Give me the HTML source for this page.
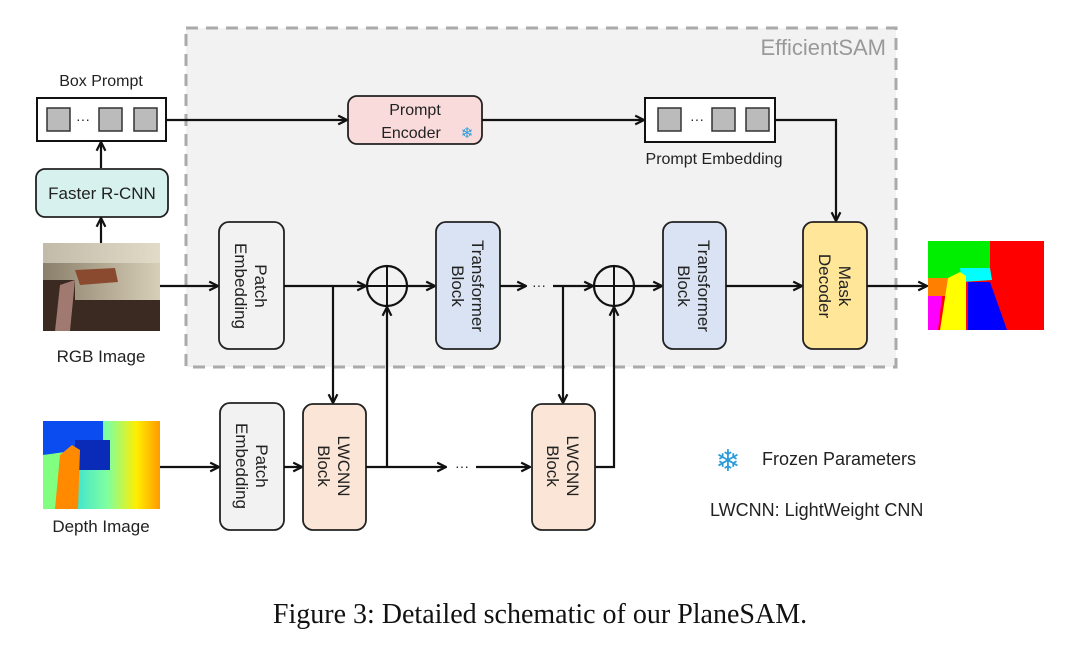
<!DOCTYPE html>
<html><head><meta charset="utf-8"><style>
html,body{margin:0;padding:0;background:#fff;}
svg{display:block;}
text{font-family:"Liberation Sans",sans-serif;fill:#222;}
</style></head><body>
<svg width="1080" height="649" viewBox="0 0 1080 649" xmlns="http://www.w3.org/2000/svg">
<defs>
<marker id="a" viewBox="0 0 10 10" refX="9" refY="5" markerWidth="11" markerHeight="11" markerUnits="userSpaceOnUse" orient="auto">
<path d="M1,1 L9,5 L1,9" fill="none" stroke="#111" stroke-width="2"/>
</marker>
<linearGradient id="dg" x1="0" x2="1" y1="0" y2="0">
<stop offset="0" stop-color="#00c8ff"/><stop offset="0.55" stop-color="#7fffa0"/><stop offset="0.8" stop-color="#ffee00"/><stop offset="1" stop-color="#ff9a00"/>
</linearGradient>
<linearGradient id="rg" x1="0" x2="1" y1="0" y2="0">
<stop offset="0" stop-color="#8a7f6a"/><stop offset="1" stop-color="#d8cfb8"/>
</linearGradient>
</defs>

<rect x="186" y="28" width="710" height="339" fill="#f2f2f2" stroke="#aaa" stroke-width="3" stroke-dasharray="12,8"/>
<text x="886" y="55" font-size="22" text-anchor="end" style="fill:#999">EfficientSAM</text>

<text x="101" y="86" font-size="16" text-anchor="middle">Box Prompt</text>
<rect x="37" y="98" width="129" height="43" fill="#fff" stroke="#111" stroke-width="2"/>
<rect x="47" y="108" width="23" height="23" fill="#bbb" stroke="#333" stroke-width="1.5"/>
<text x="83" y="124" font-size="14" text-anchor="middle">···</text>
<rect x="99" y="108" width="23" height="23" fill="#bbb" stroke="#333" stroke-width="1.5"/>
<rect x="134" y="108" width="23" height="23" fill="#bbb" stroke="#333" stroke-width="1.5"/>

<rect x="36" y="169" width="132" height="48" rx="9" fill="#d7f1ee" stroke="#222" stroke-width="1.8"/>
<text x="102" y="199" font-size="17" text-anchor="middle">Faster R-CNN</text>
<line x1="101" y1="243" x2="101" y2="218" stroke="#111" stroke-width="2.2" marker-end="url(#a)"/>
<line x1="101" y1="168" x2="101" y2="142" stroke="#111" stroke-width="2.2" marker-end="url(#a)"/>

<rect x="43" y="243" width="117" height="88" fill="url(#rg)"/>
<polygon points="43,280 75,280 75,300 160,300 160,331 43,331" fill="#3a2a22"/>
<polygon points="75,270 115,268 118,282 80,285" fill="#8a4a30"/>
<polygon points="60,285 75,280 70,331 55,331" fill="#a07a70"/>
<rect x="43" y="243" width="117" height="20" fill="#e8e2d2" opacity="0.6"/>
<text x="101" y="362" font-size="17" text-anchor="middle">RGB Image</text>

<line x1="167" y1="120" x2="347" y2="120" stroke="#111" stroke-width="2.2" marker-end="url(#a)"/>
<rect x="348" y="96" width="134" height="48" rx="9" fill="#fadbdc" stroke="#222" stroke-width="1.8"/>
<text x="415" y="115" font-size="16" text-anchor="middle">Prompt</text>
<text x="411" y="138" font-size="16" text-anchor="middle">Encoder</text>
<text x="467" y="138" font-size="15" text-anchor="middle" style="fill:#2a9bd8">❄</text>
<line x1="482" y1="120" x2="644" y2="120" stroke="#111" stroke-width="2.2" marker-end="url(#a)"/>

<rect x="645" y="98" width="130" height="44" fill="#fff" stroke="#111" stroke-width="2"/>
<rect x="658" y="108" width="23" height="23" fill="#bbb" stroke="#333" stroke-width="1.5"/>
<text x="697" y="124" font-size="14" text-anchor="middle">···</text>
<rect x="712" y="108" width="23" height="23" fill="#bbb" stroke="#333" stroke-width="1.5"/>
<rect x="746" y="108" width="23" height="23" fill="#bbb" stroke="#333" stroke-width="1.5"/>
<text x="714" y="164" font-size="16" text-anchor="middle">Prompt Embedding</text>
<polyline points="775,120 836,120 836,221" fill="none" stroke="#111" stroke-width="2.2" marker-end="url(#a)"/>

<line x1="160" y1="286" x2="218" y2="286" stroke="#111" stroke-width="2.2" marker-end="url(#a)"/>
<rect x="219" y="222" width="65" height="127" rx="10" fill="#f2f2f2" stroke="#222" stroke-width="1.8"/>
<text transform="translate(251,286) rotate(90)" font-size="17" text-anchor="middle"><tspan x="0" dy="-4">Patch</tspan><tspan x="0" dy="20">Embedding</tspan></text>
<line x1="284" y1="286" x2="366" y2="286" stroke="#111" stroke-width="2.2" marker-end="url(#a)"/>
<circle cx="387" cy="286" r="20" fill="none" stroke="#111" stroke-width="2.2"/>
<line x1="367" y1="286" x2="407" y2="286" stroke="#111" stroke-width="2"/>
<line x1="387" y1="266" x2="387" y2="306" stroke="#111" stroke-width="2"/>
<line x1="407" y1="286" x2="435" y2="286" stroke="#111" stroke-width="2.2" marker-end="url(#a)"/>
<rect x="436" y="222" width="64" height="127" rx="10" fill="#dae3f3" stroke="#222" stroke-width="1.8"/>
<text transform="translate(468,286) rotate(90)" font-size="17" text-anchor="middle"><tspan x="0" dy="-4">Transformer</tspan><tspan x="0" dy="20">Block</tspan></text>
<line x1="500" y1="286" x2="526" y2="286" stroke="#111" stroke-width="2.2" marker-end="url(#a)"/>
<text x="539" y="290" font-size="14" text-anchor="middle">···</text>
<line x1="553" y1="286" x2="593" y2="286" stroke="#111" stroke-width="2.2" marker-end="url(#a)"/>
<circle cx="614" cy="286" r="20" fill="none" stroke="#111" stroke-width="2.2"/>
<line x1="594" y1="286" x2="634" y2="286" stroke="#111" stroke-width="2"/>
<line x1="614" y1="266" x2="614" y2="306" stroke="#111" stroke-width="2"/>
<line x1="634" y1="286" x2="662" y2="286" stroke="#111" stroke-width="2.2" marker-end="url(#a)"/>
<rect x="663" y="222" width="63" height="127" rx="10" fill="#dae3f3" stroke="#222" stroke-width="1.8"/>
<text transform="translate(694,286) rotate(90)" font-size="17" text-anchor="middle"><tspan x="0" dy="-4">Transformer</tspan><tspan x="0" dy="20">Block</tspan></text>
<line x1="726" y1="286" x2="802" y2="286" stroke="#111" stroke-width="2.2" marker-end="url(#a)"/>
<rect x="803" y="222" width="64" height="127" rx="10" fill="#ffe699" stroke="#222" stroke-width="1.8"/>
<text transform="translate(835,286) rotate(90)" font-size="17" text-anchor="middle"><tspan x="0" dy="-4">Mask</tspan><tspan x="0" dy="20">Decoder</tspan></text>
<line x1="867" y1="286" x2="927" y2="286" stroke="#111" stroke-width="2.2" marker-end="url(#a)"/>

<rect x="928" y="241" width="116" height="89" fill="#ff0000"/>
<polygon points="928,241 990,241 990,278 928,278" fill="#00ee00"/>
<polygon points="960,268 990,268 992,280 962,282" fill="#00ffff"/>
<polygon points="968,282 990,282 1007,330 968,330" fill="#0000ff"/>
<polygon points="928,278 950,278 946,296 928,296" fill="#ff7f00"/>
<polygon points="928,296 942,296 938,330 928,330" fill="#ff00ff"/>
<polygon points="948,278 960,272 966,276 966,330 940,330" fill="#ffff00"/>

<line x1="333" y1="286" x2="333" y2="403" stroke="#111" stroke-width="2.2" marker-end="url(#a)"/>
<line x1="563" y1="286" x2="563" y2="403" stroke="#111" stroke-width="2.2" marker-end="url(#a)"/>
<line x1="387" y1="467" x2="387" y2="307" stroke="#111" stroke-width="2.2" marker-end="url(#a)"/>
<polyline points="595,467 614,467 614,307" fill="none" stroke="#111" stroke-width="2.2" marker-end="url(#a)"/>

<rect x="43" y="421" width="117" height="88" fill="url(#dg)"/>
<rect x="43" y="421" width="60" height="36" fill="#0a4cf0"/>
<rect x="75" y="440" width="35" height="30" fill="#0a2ab8"/>
<polygon points="43,455 65,452 65,509 43,509" fill="#80ff80"/>
<polygon points="60,455 72,445 80,450 78,509 55,509" fill="#ff8a00"/>
<text x="101" y="532" font-size="17" text-anchor="middle">Depth Image</text>
<line x1="160" y1="467" x2="219" y2="467" stroke="#111" stroke-width="2.2" marker-end="url(#a)"/>
<rect x="220" y="403" width="64" height="127" rx="10" fill="#f2f2f2" stroke="#222" stroke-width="1.8"/>
<text transform="translate(252,466) rotate(90)" font-size="17" text-anchor="middle"><tspan x="0" dy="-4">Patch</tspan><tspan x="0" dy="20">Embedding</tspan></text>
<line x1="284" y1="467" x2="302" y2="467" stroke="#111" stroke-width="2.2" marker-end="url(#a)"/>
<rect x="303" y="404" width="63" height="126" rx="10" fill="#fbe5d6" stroke="#222" stroke-width="1.8"/>
<text transform="translate(334,466) rotate(90)" font-size="17" text-anchor="middle"><tspan x="0" dy="-4">LWCNN</tspan><tspan x="0" dy="20">Block</tspan></text>
<line x1="366" y1="467" x2="446" y2="467" stroke="#111" stroke-width="2.2" marker-end="url(#a)"/>
<text x="462" y="471" font-size="14" text-anchor="middle">···</text>
<line x1="476" y1="467" x2="530" y2="467" stroke="#111" stroke-width="2.2" marker-end="url(#a)"/>
<rect x="532" y="404" width="63" height="126" rx="10" fill="#fbe5d6" stroke="#222" stroke-width="1.8"/>
<text transform="translate(563,466) rotate(90)" font-size="17" text-anchor="middle"><tspan x="0" dy="-4">LWCNN</tspan><tspan x="0" dy="20">Block</tspan></text>

<text x="728" y="471" font-size="30" text-anchor="middle" style="fill:#2a9bd8">❄</text>
<text x="762" y="465" font-size="18">Frozen Parameters</text>
<text x="710" y="516" font-size="18">LWCNN: LightWeight CNN</text>

<text x="540" y="623" font-size="28" text-anchor="middle" style="font-family:'Liberation Serif',serif;fill:#111">Figure 3: Detailed schematic of our PlaneSAM.</text>
</svg>
</body></html>
